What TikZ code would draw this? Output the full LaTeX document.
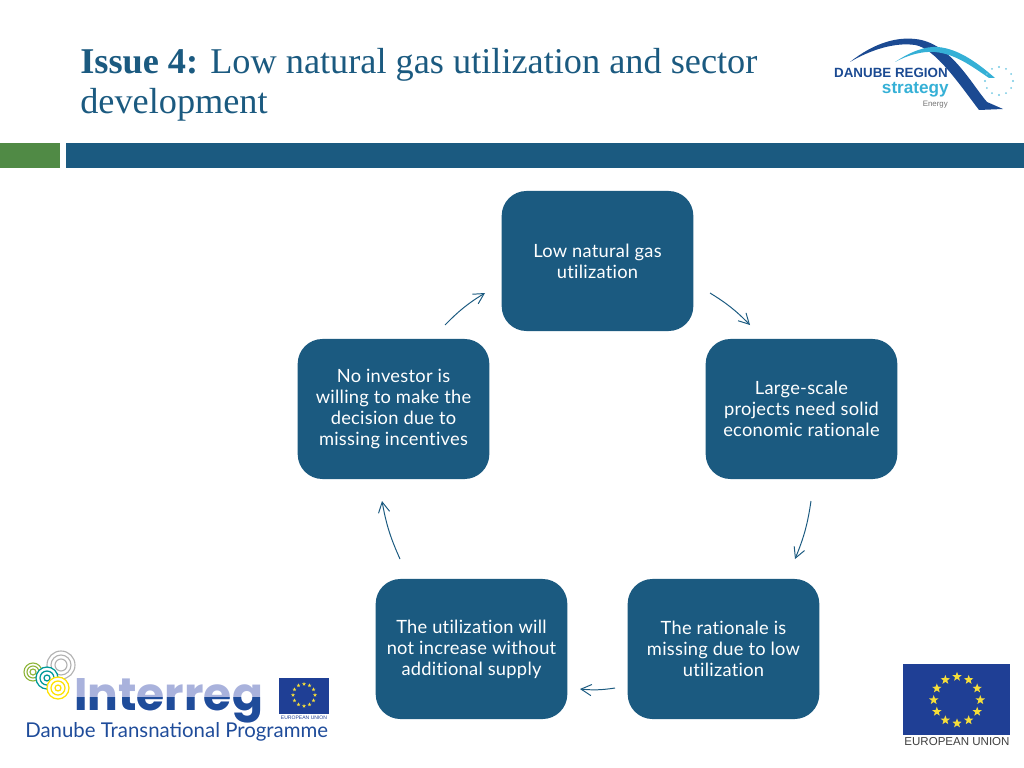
\documentclass[tikz,border=0pt]{standalone}
\usepackage{fontspec}
\setmainfont[Ligatures=NoCommon,LetterSpace=1.5]{Lato}
\newfontfamily\titlefont{Liberation Serif}
\newfontfamily\logofont{Poppins}
\newfontfamily\headfont{Liberation Sans}
\newfontfamily\namefont{Lato}
\usetikzlibrary{calc,positioning,arrows,arrows.meta,shapes.geometric}
\definecolor{boxblue}{HTML}{1B5A80}
\definecolor{bargreen}{HTML}{508A45}
\definecolor{eublue}{HTML}{1F3F95}
\definecolor{danubeblue}{HTML}{1B4A92}
\definecolor{danubelight}{HTML}{35B0D6}
\definecolor{interlight}{HTML}{A9B2DC}
\definecolor{interdark}{HTML}{1F4C9A}
\definecolor{starcol}{HTML}{F6DE3A}
\tikzset{
	issuebox/.style={rectangle, fill=boxblue, rounded corners=0.62cm, minimum width=4.79cm, minimum height=3.5cm, text=white, align=center, font=\fontsize{13}{14.9}\selectfont},
	looparrow/.style={-{Straight Barb[length=2.6mm,width=2.8mm]}, boxblue, line width=0.7pt, bend left=7},
	eustar/.style={star, star points=5, star point ratio=2.4, fill=starcol, inner sep=0pt},
}
\begin{document}
\begin{tikzpicture}[x=0.025cm,y=-0.025cm]
	\useasboundingbox (0,0) rectangle (1024,768);

	% title and bars
	\node [anchor=base west, inner sep=0pt, text=boxblue, font=\titlefont\fontsize{25.8}{29}\selectfont, align=left] (title) at (80,114) {\textbf{Issue 4:} Low natural gas utilization and sector\\development};
	\fill[bargreen] (0,143) rectangle (60,168);
	\fill[boxblue] (66,143) rectangle (1024,168);

	% boxes
	\node [issuebox] (gas) at (597.5,261) {Low natural gas\\utilization};
	\node [issuebox] (scale) at (801.5,409) {Large-scale\\projects need solid\\economic rationale};
	\node [issuebox] (rationale) at (723.5,649) {The rationale is\\missing due to low\\utilization};
	\node [issuebox] (supply) at (471.5,649) {The utilization will\\not increase without\\additional supply};
	\node [issuebox] (investor) at (393.5,409) {No investor is\\willing to make the\\decision due to\\missing incentives};

	% arrows
	\coordinate (a1) at (445,325);
	\coordinate (a2) at (485,293);
	\coordinate (b1) at (710,293);
	\coordinate (b2) at (750,325);
	\coordinate (c1) at (811,501);
	\coordinate (c2) at (795,559);
	\coordinate (d1) at (615,688);
	\coordinate (d2) at (580,689);
	\coordinate (e1) at (400,559);
	\coordinate (e2) at (382,501);
	\draw[looparrow] (a1) to (a2);
	\draw[looparrow] (b1) to (b2);
	\draw[looparrow] (c1) to (c2);
	\draw[looparrow] (d1) to (d2);
	\draw[looparrow] (e1) to (e2);

	% danube logo
	\fill[danubeblue] (850,62) .. controls (875,42) and (898,37) .. (915,39) .. controls (950,42) and (972,85) .. (987,102) -- (1003,109) -- (979,110) .. controls (960,85) and (935,48) .. (915,45) .. controls (895,42) and (870,50) .. (850,62) -- cycle;
	\fill[danubelight] (895,62) .. controls (910,52) and (925,46) .. (938,47) .. controls (960,49) and (980,65) .. (995,78) -- (989,78) .. controls (970,65) and (955,54) .. (935,52) .. controls (922,51) and (908,55) .. (895,62) -- cycle;
	\foreach \i in {0,30,...,330}
		\fill[danubelight!70] (999,81) ++(\i:14) circle (1.1);
	\node [anchor=east, inner sep=0pt, text=danubeblue, font=\headfont\bfseries\fontsize{9.5}{12}\selectfont] (danube) at (948,73) {DANUBE REGION};
	\node [anchor=east, inner sep=0pt, text=danubelight, font=\headfont\bfseries\fontsize{12.2}{14}\selectfont] (strategy) at (949,90) {strategy};
	\node [anchor=east, inner sep=0pt, text=black!55, font=\headfont\fontsize{5.6}{7}\selectfont] (energy) at (948,105) {Energy};

	% interreg logo
	\foreach \r in {14,10,6}
		\draw[black!30, line width=0.8pt, fill=white] (61,665) circle (\r);
	\foreach \r in {9,6,3}
		\draw[yellow!60!green!80!black, line width=0.8pt, fill=white] (33,672) circle (\r);
	\foreach \r in {11,7,3}
		\draw[teal!80!cyan, line width=0.9pt, fill=white] (47,678) circle (\r);
	\foreach \r in {11,7,3}
		\draw[yellow!85!orange, line width=0.9pt, fill=white] (58,688) circle (\r);
	\node [anchor=base west, inner sep=0pt, text=interlight, font=\logofont\bfseries\fontsize{32.4}{40}\selectfont] (interA) at (74,710) {Interreg};
	\begin{scope}
		\clip (70,697) rectangle (270,722);
		\node [anchor=base west, inner sep=0pt, text=interdark, font=\logofont\bfseries\fontsize{32.4}{40}\selectfont] (interB) at (74,710) {Interreg};
	\end{scope}
	\node [anchor=west, inner sep=0pt, text=interdark, font=\namefont\fontsize{14.5}{15}\selectfont] (programme) at (25,732) {Danube Transnational Programme};
	\fill[eublue] (279,678) rectangle (329,714);
	\foreach \i in {0,30,...,330}
		\node [eustar, minimum size=3pt] (small\i) at ($(304,695)+(\i:11)$) {};
	\node [inner sep=0pt, text=eublue, font=\headfont\fontsize{3.6}{4}\selectfont] (smallunion) at (304,717.5) {EUROPEAN UNION};

	% eu flag
	\fill[eublue] (903,664) rectangle (1010,735);
	\foreach \i in {0,30,...,330}
		\node [eustar, minimum size=7pt] (big\i) at ($(957,700)+(\i:23.3)$) {};
	\node [inner sep=0pt, text=black!75, font=\headfont\fontsize{8.2}{9}\selectfont] (union) at (957,742) {EUROPEAN UNION};
\end{tikzpicture}
\end{document}
